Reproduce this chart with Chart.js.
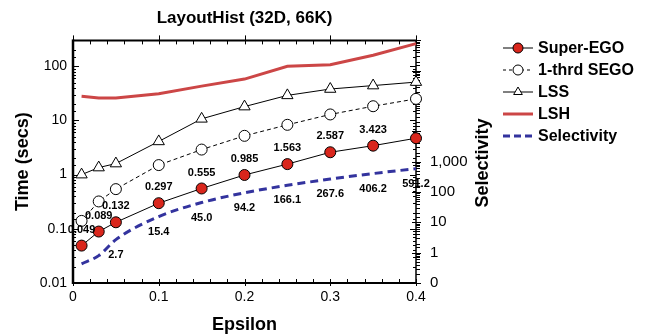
<!DOCTYPE html>
<html>
<head>
<meta charset="utf-8">
<title>LayoutHist</title>
<script src="https://cdn.jsdelivr.net/npm/chart.js@4.4.1/dist/chart.umd.min.js"></script>
<style>
  body { margin: 0; background: #fff; }
  #wrap { width: 646px; height: 334px; }
</style>
</head>
<body>
<div id="wrap"><canvas id="myChart" width="646" height="334"></canvas></div>
<script>
// epsilon values (x axis)
const epsilon = [0.01, 0.03, 0.05, 0.1, 0.15, 0.2, 0.25, 0.3, 0.35, 0.4];

// run times in secs
const superEgo = [0.049, 0.089, 0.132, 0.297, 0.555, 0.985, 1.563, 2.587, 3.423, 4.7];
const oneThrdSego = [0.14, 0.32, 0.54, 1.5, 2.9, 5.2, 8.3, 12.9, 18.3, 25];
const lss = [1.0, 1.35, 1.6, 4.1, 10.7, 18, 29, 38, 44, 51];
const lsh = [28, 26, 26, 31, 43, 58, 100, 107, 160, 262];
// selectivity (right axis)
const selectivity = [0.43, 0.8, 2.7, 15.4, 45.0, 94.2, 166.1, 267.6, 406.2, 591.2];

// numbers printed next to the marks
const superEgoLabels = ["0.049", "0.089", "0.132", "0.297", "0.555", "0.985", "1.563", "2.587", "3.423", ""];
const selectivityLabels = ["", "", "2.7", "15.4", "45.0", "94.2", "166.1", "267.6", "406.2", "591.2"];

// tick labels
const timeTicks = ["0.01", "0.1", "1", "10", "100"];   // 10^-2 .. 10^2
const selTicks = ["0", "1", "10", "100", "1,000"];      // 10^-1 .. 10^3

const FONT = "'Liberation Sans', Arial, Helvetica, sans-serif";
Chart.defaults.font.family = FONT;
Chart.defaults.color = "#000";

function pairs(arr) {
  return epsilon.map((e, i) => ({ x: e, y: arr[i] }));
}

function decade(v) {
  const e = Math.log10(v);
  return Math.abs(e - Math.round(e)) < 1e-6 ? Math.round(e) : null;
}

// frame with inward ticks, drawn under the marks
const frame = {
  id: "frame",
  beforeDatasetsDraw(chart) {
    const { ctx, chartArea: a, scales } = chart;
    ctx.save();
    ctx.strokeStyle = "#000";
    ctx.lineWidth = 1;
    ctx.beginPath();
    for (let k = 0; k <= 20; k++) {
      const x = Math.round(scales.x.getPixelForValue(k * 0.02)) + 0.5;
      if (k % 5 === 0) {
        ctx.moveTo(x, a.top - 5); ctx.lineTo(x, a.top + 4);
        ctx.moveTo(x, a.bottom - 4); ctx.lineTo(x, a.bottom + 3);
      } else {
        ctx.moveTo(x, a.top); ctx.lineTo(x, a.top + 4);
        ctx.moveTo(x, a.bottom - 4); ctx.lineTo(x, a.bottom);
      }
    }
    scales.y.ticks.forEach((t) => {
      const y = Math.round(scales.y.getPixelForValue(t.value)) + 0.5;
      const len = decade(t.value) !== null ? 6 : 3;
      ctx.moveTo(a.left, y); ctx.lineTo(a.left + len, y);
      ctx.moveTo(a.right, y); ctx.lineTo(a.right - len, y);
    });
    scales.y1.ticks.forEach((t) => {
      const y = Math.round(scales.y1.getPixelForValue(t.value)) + 0.5;
      if (decade(t.value) !== null) {
        ctx.moveTo(a.right - 4, y); ctx.lineTo(a.right + 5, y);
      } else {
        ctx.moveTo(a.right, y); ctx.lineTo(a.right + 4, y);
      }
    });
    ctx.stroke();

    ctx.lineWidth = 2.5;
    ctx.beginPath();
    ctx.moveTo(a.left, a.top - 1); ctx.lineTo(a.left, a.bottom + 1);
    ctx.stroke();
    ctx.lineWidth = 2;
    ctx.beginPath();
    ctx.moveTo(a.left, a.top); ctx.lineTo(a.right, a.top);
    ctx.moveTo(a.left, a.bottom); ctx.lineTo(a.right, a.bottom);
    ctx.stroke();
    ctx.lineWidth = 1.5;
    ctx.beginPath();
    ctx.moveTo(a.right, a.top); ctx.lineTo(a.right, a.bottom);
    ctx.stroke();
    ctx.restore();
  },
};

// printed values next to Super-EGO and Selectivity
const valueLabels = {
  id: "valueLabels",
  afterDatasetsDraw(chart) {
    const ctx = chart.ctx;
    ctx.save();
    ctx.font = "bold 11px " + FONT;
    ctx.fillStyle = "#000";
    ctx.textAlign = "center";
    ctx.textBaseline = "middle";
    chart.getDatasetMeta(0).data.forEach((pt, i) => {
      if (superEgoLabels[i]) ctx.fillText(superEgoLabels[i], pt.x, pt.y - 16);
    });
    chart.getDatasetMeta(4).data.forEach((pt, i) => {
      if (selectivityLabels[i]) ctx.fillText(selectivityLabels[i], pt.x, pt.y + 15);
    });
    ctx.restore();
  },
};

// legend on the right + right axis title
const sideLegend = {
  id: "sideLegend",
  afterDraw(chart) {
    const ctx = chart.ctx;
    ctx.save();
    chart.data.datasets.forEach((ds, i) => {
      const y = 48 + i * 22;
      ctx.strokeStyle = ds.borderColor;
      ctx.lineWidth = ds.borderWidth;
      ctx.setLineDash(ds.legendDash || []);
      ctx.beginPath();
      ctx.moveTo(503, y); ctx.lineTo(533, y);
      ctx.stroke();
      ctx.setLineDash([]);
      if (ds.pointRadius > 0) {
        ctx.fillStyle = ds.pointBackgroundColor;
        ctx.strokeStyle = "#000";
        ctx.lineWidth = 1;
        Chart.helpers.drawPoint(ctx, { pointStyle: ds.pointStyle, radius: 5, rotation: 0, borderWidth: 1 }, 518, y);
      }
      ctx.fillStyle = "#000";
      ctx.font = "bold 16px " + FONT;
      ctx.textAlign = "left";
      ctx.textBaseline = "middle";
      ctx.fillText(ds.label, 538, y + 1);
    });

    ctx.translate(483, 163);
    ctx.rotate(-Math.PI / 2);
    ctx.font = "bold 18px " + FONT;
    ctx.textAlign = "center";
    ctx.textBaseline = "middle";
    ctx.fillText("Selectivity", 0, 0);
    ctx.restore();
  },
};

const ctx = document.getElementById("myChart").getContext("2d");
const chart = new Chart(ctx, {
  type: "line",
  data: {
    datasets: [
      {
        label: "Super-EGO",
        data: pairs(superEgo),
        borderColor: "#000",
        borderWidth: 1,
        pointStyle: "circle",
        pointRadius: 5.5,
        pointBackgroundColor: "#d9261c",
        pointBorderColor: "#000",
        pointBorderWidth: 1,
        clip: false,
      },
      {
        label: "1-thrd SEGO",
        data: pairs(oneThrdSego),
        borderColor: "#000",
        borderWidth: 1,
        borderDash: [4, 3],
        legendDash: [3, 3],
        pointStyle: "circle",
        pointRadius: 5.5,
        pointBackgroundColor: "#fff",
        pointBorderColor: "#000",
        pointBorderWidth: 1,
        clip: false,
      },
      {
        label: "LSS",
        data: pairs(lss),
        borderColor: "#000",
        borderWidth: 1,
        pointStyle: "triangle",
        pointRadius: 6.5,
        pointBackgroundColor: "#fff",
        pointBorderColor: "#000",
        pointBorderWidth: 1,
        clip: false,
      },
      {
        label: "LSH",
        data: pairs(lsh),
        borderColor: "#cc4646",
        borderWidth: 3,
        pointRadius: 0,
        clip: false,
      },
      {
        label: "Selectivity",
        data: pairs(selectivity),
        yAxisID: "y1",
        borderColor: "#33339e",
        borderWidth: 3,
        borderDash: [8, 5],
        legendDash: [7, 4],
        pointRadius: 0,
        cubicInterpolationMode: "monotone",
        clip: false,
      },
    ],
  },
  options: {
    responsive: false,
    animation: false,
    events: [],
    layout: { padding: { left: 0, right: 170, top: 0, bottom: 0 } },
    plugins: {
      legend: { display: false },
      tooltip: { enabled: false },
      title: {
        display: true,
        text: "LayoutHist (32D, 66K)",
        fullSize: false,
        color: "#000",
        font: { size: 17, weight: "bold" },
        padding: { top: 8, bottom: 12 },
      },
    },
    scales: {
      x: {
        type: "linear",
        min: 0,
        max: 0.4,
        grid: { display: false, drawTicks: false },
        border: { display: false },
        ticks: { stepSize: 0.1, padding: 6, font: { size: 14 }, color: "#000" },
        title: {
          display: true,
          text: "Epsilon",
          color: "#000",
          font: { size: 18, weight: "bold", lineHeight: 1 },
          padding: { top: 0, bottom: 0 },
        },
        afterFit(s) { s.height = 51; },
      },
      y: {
        type: "logarithmic",
        position: "left",
        min: 0.01,
        max: 300,
        grid: { display: false, drawTicks: false },
        border: { display: false },
        ticks: {
          autoSkip: false,
          padding: 6,
          font: { size: 14 },
          color: "#000",
          callback: (v) => {
            const e = decade(v);
            return e === null ? "" : timeTicks[e + 2] || "";
          },
        },
        title: {
          display: true,
          text: "Time (secs)",
          color: "#000",
          font: { size: 18, weight: "bold", lineHeight: 1 },
          padding: { top: 14, bottom: 0 },
        },
        afterFit(s) { s.width = 73; },
      },
      y1: {
        type: "logarithmic",
        position: "right",
        min: 0.1,
        max: 1e7,
        grid: { display: false, drawTicks: false },
        border: { display: false },
        ticks: {
          autoSkip: false,
          padding: 14,
          font: { size: 15 },
          color: "#000",
          callback: (v) => {
            const e = decade(v);
            return e === null ? "" : selTicks[e + 1] || "";
          },
        },
        afterFit(s) { s.width = 60; },
      },
    },
  },
  plugins: [frame, valueLabels, sideLegend],
});
</script>
</body>
</html>
